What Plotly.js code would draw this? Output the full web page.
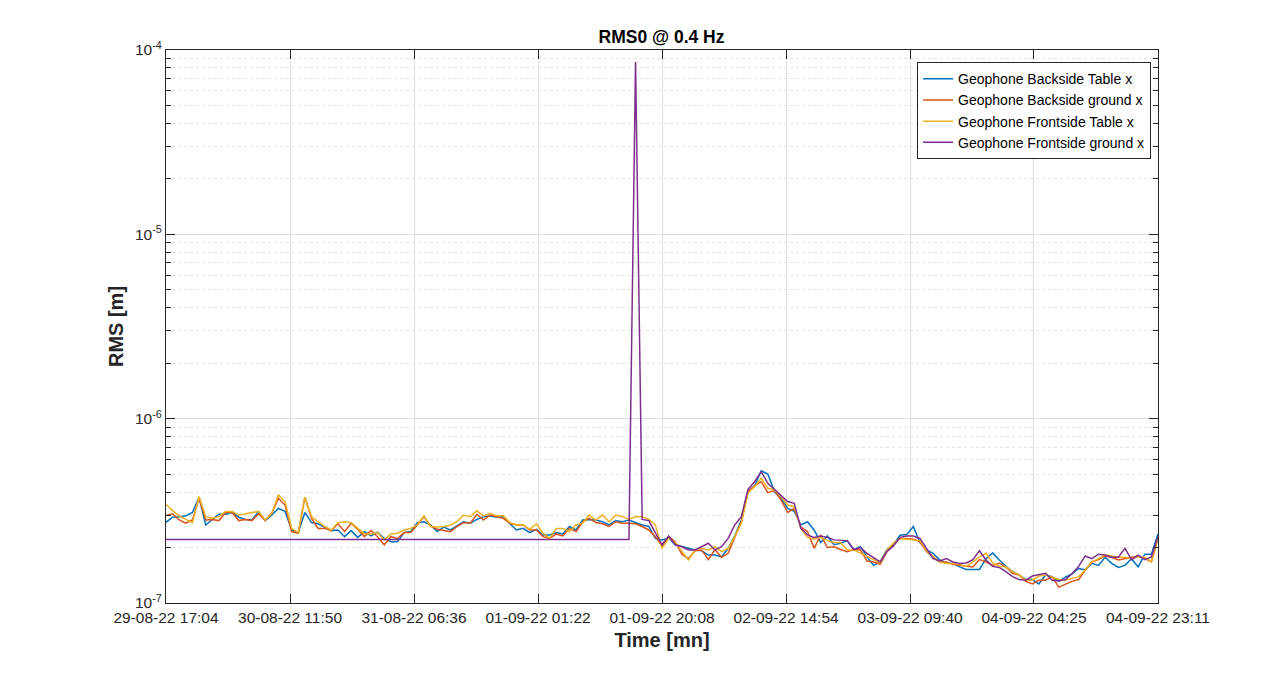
<!DOCTYPE html>
<html>
<head>
<meta charset="utf-8">
<script src="https://cdn.plot.ly/plotly-3.0.1.min.js"></script>
<style>
  html, body { margin: 0; padding: 0; background: #ffffff; }
  #chart { width: 1280px; height: 677px; }
</style>
</head>
<body>
<div id="chart"></div>
<script>
// ---------------- DATA ----------------
const seriesNames = [
  "Geophone Backside Table x",
  "Geophone Backside ground x",
  "Geophone Frontside Table x",
  "Geophone Frontside ground x"
];

const startTime = "2022-08-29 17:04";
const endTime = "2022-09-04 23:11";

const tickTimes = [
  "2022-08-29 17:04", "2022-08-30 11:50", "2022-08-31 06:36",
  "2022-09-01 01:22", "2022-09-01 20:08", "2022-09-02 14:54",
  "2022-09-03 09:40", "2022-09-04 04:25", "2022-09-04 23:11"
];
const tickLabels = [
  "29-08-22 17:04", "30-08-22 11:50", "31-08-22 06:36",
  "01-09-22 01:22", "01-09-22 20:08", "02-09-22 14:54",
  "03-09-22 09:40", "04-09-22 04:25", "04-09-22 23:11"
];

const yTickVals = [1e-7, 1e-6, 1e-5, 1e-4];
const yTickLabels = ["10<sup>-7</sup>", "10<sup>-6</sup>", "10<sup>-5</sup>", "10<sup>-4</sup>"];

const backsideTable = [
  2.74e-7, 2.92e-7, 2.94e-7, 2.97e-7, 3.10e-7, 3.75e-7, 2.65e-7, 2.82e-7, 3.03e-7, 3.03e-7,
  3.10e-7, 2.92e-7, 2.84e-7, 2.82e-7, 3.14e-7, 2.80e-7, 3.00e-7, 3.26e-7, 3.14e-7, 2.49e-7,
  2.41e-7, 3.10e-7, 2.73e-7, 2.69e-7, 2.58e-7, 2.47e-7, 2.49e-7, 2.29e-7, 2.47e-7, 2.27e-7,
  2.44e-7, 2.31e-7, 2.42e-7, 2.24e-7, 2.15e-7, 2.15e-7, 2.41e-7, 2.44e-7, 2.73e-7, 2.76e-7,
  2.65e-7, 2.44e-7, 2.58e-7, 2.49e-7, 2.62e-7, 2.76e-7, 2.71e-7, 2.84e-7, 2.94e-7, 2.97e-7,
  2.92e-7, 2.94e-7, 2.69e-7, 2.49e-7, 2.54e-7, 2.41e-7, 2.51e-7, 2.34e-7, 2.34e-7, 2.41e-7,
  2.37e-7, 2.60e-7, 2.49e-7, 2.82e-7, 2.84e-7, 2.82e-7, 2.76e-7, 2.65e-7, 2.80e-7, 2.76e-7,
  2.82e-7, 2.73e-7, 2.65e-7, 2.60e-7, 2.24e-7, 2.20e-7, 2.25e-7, 2.07e-7, 2.02e-7, 1.98e-7,
  1.94e-7, 1.92e-7, 1.82e-7, 1.82e-7, 1.78e-7, 1.98e-7, 2.31e-7, 2.82e-7, 4.02e-7, 4.32e-7,
  5.22e-7, 5.01e-7, 4.02e-7, 3.70e-7, 3.26e-7, 3.14e-7, 2.65e-7, 2.76e-7, 2.49e-7, 2.13e-7,
  2.31e-7, 2.07e-7, 2.11e-7, 2.18e-7, 1.95e-7, 2.02e-7, 1.78e-7, 1.60e-7, 1.67e-7, 1.95e-7,
  2.07e-7, 2.33e-7, 2.35e-7, 2.60e-7, 2.13e-7, 1.94e-7, 1.86e-7, 1.71e-7, 1.65e-7, 1.64e-7,
  1.57e-7, 1.52e-7, 1.52e-7, 1.52e-7, 1.74e-7, 1.87e-7, 1.71e-7, 1.58e-7, 1.48e-7, 1.42e-7,
  1.34e-7, 1.34e-7, 1.27e-7, 1.42e-7, 1.39e-7, 1.31e-7, 1.38e-7, 1.44e-7, 1.54e-7, 1.51e-7,
  1.64e-7, 1.60e-7, 1.77e-7, 1.64e-7, 1.56e-7, 1.60e-7, 1.74e-7, 1.57e-7, 1.84e-7, 1.84e-7,
  2.37e-7
];

const backsideGround = [
  2.98e-7, 3.05e-7, 2.82e-7, 2.71e-7, 2.82e-7, 3.70e-7, 2.82e-7, 2.84e-7, 2.80e-7, 3.10e-7,
  3.10e-7, 2.80e-7, 2.84e-7, 2.80e-7, 3.05e-7, 2.80e-7, 3.07e-7, 3.70e-7, 3.40e-7, 2.44e-7,
  2.39e-7, 3.75e-7, 2.88e-7, 2.54e-7, 2.54e-7, 2.47e-7, 2.69e-7, 2.44e-7, 2.71e-7, 2.51e-7,
  2.29e-7, 2.47e-7, 2.29e-7, 2.07e-7, 2.29e-7, 2.24e-7, 2.41e-7, 2.41e-7, 2.65e-7, 2.94e-7,
  2.62e-7, 2.51e-7, 2.47e-7, 2.44e-7, 2.60e-7, 2.73e-7, 2.71e-7, 3.03e-7, 2.82e-7, 3.00e-7,
  2.94e-7, 2.88e-7, 2.71e-7, 2.65e-7, 2.65e-7, 2.49e-7, 2.49e-7, 2.29e-7, 2.24e-7, 2.37e-7,
  2.31e-7, 2.54e-7, 2.44e-7, 2.76e-7, 2.88e-7, 2.73e-7, 2.69e-7, 2.60e-7, 2.76e-7, 2.71e-7,
  2.71e-7, 2.69e-7, 2.60e-7, 2.49e-7, 2.29e-7, 2.04e-7, 2.29e-7, 2.15e-7, 1.84e-7, 1.74e-7,
  1.92e-7, 1.94e-7, 1.72e-7, 1.95e-7, 1.77e-7, 1.86e-7, 2.27e-7, 2.76e-7, 4.02e-7, 4.32e-7,
  4.55e-7, 3.97e-7, 4.07e-7, 3.62e-7, 3.10e-7, 3.26e-7, 2.58e-7, 2.44e-7, 1.98e-7, 2.34e-7,
  2.00e-7, 2.02e-7, 1.95e-7, 1.90e-7, 1.95e-7, 1.94e-7, 1.69e-7, 1.67e-7, 1.62e-7, 1.90e-7,
  2.11e-7, 2.24e-7, 2.24e-7, 2.22e-7, 2.15e-7, 1.90e-7, 1.77e-7, 1.67e-7, 1.67e-7, 1.62e-7,
  1.60e-7, 1.58e-7, 1.57e-7, 1.72e-7, 1.67e-7, 1.60e-7, 1.64e-7, 1.57e-7, 1.45e-7, 1.42e-7,
  1.31e-7, 1.27e-7, 1.33e-7, 1.33e-7, 1.39e-7, 1.22e-7, 1.27e-7, 1.31e-7, 1.34e-7, 1.51e-7,
  1.67e-7, 1.72e-7, 1.80e-7, 1.77e-7, 1.71e-7, 1.74e-7, 1.77e-7, 1.80e-7, 1.74e-7, 1.67e-7,
  2.24e-7
];

const frontsideTable = [
  3.43e-7, 3.17e-7, 2.97e-7, 2.84e-7, 2.73e-7, 3.78e-7, 2.94e-7, 2.88e-7, 2.94e-7, 3.14e-7,
  3.14e-7, 3.00e-7, 3.05e-7, 3.11e-7, 3.14e-7, 2.82e-7, 3.07e-7, 3.86e-7, 3.55e-7, 2.54e-7,
  2.41e-7, 3.75e-7, 2.94e-7, 2.76e-7, 2.60e-7, 2.49e-7, 2.73e-7, 2.76e-7, 2.73e-7, 2.54e-7,
  2.37e-7, 2.37e-7, 2.41e-7, 2.20e-7, 2.37e-7, 2.39e-7, 2.49e-7, 2.54e-7, 2.65e-7, 2.97e-7,
  2.60e-7, 2.58e-7, 2.60e-7, 2.65e-7, 2.76e-7, 3.00e-7, 2.94e-7, 3.17e-7, 2.97e-7, 3.07e-7,
  2.97e-7, 2.97e-7, 2.73e-7, 2.65e-7, 2.65e-7, 2.51e-7, 2.69e-7, 2.39e-7, 2.24e-7, 2.54e-7,
  2.54e-7, 2.44e-7, 2.65e-7, 2.71e-7, 3.00e-7, 2.82e-7, 3.00e-7, 2.76e-7, 3.00e-7, 2.94e-7,
  2.84e-7, 2.94e-7, 2.94e-7, 2.84e-7, 2.65e-7, 1.98e-7, 2.24e-7, 2.13e-7, 1.90e-7, 1.71e-7,
  1.94e-7, 1.98e-7, 1.94e-7, 2.02e-7, 1.90e-7, 1.98e-7, 2.29e-7, 2.71e-7, 3.94e-7, 4.28e-7,
  4.75e-7, 4.19e-7, 4.10e-7, 3.78e-7, 3.40e-7, 3.33e-7, 2.54e-7, 2.27e-7, 2.22e-7, 2.27e-7,
  2.18e-7, 2.13e-7, 2.13e-7, 1.94e-7, 1.94e-7, 1.86e-7, 1.78e-7, 1.71e-7, 1.65e-7, 1.94e-7,
  2.11e-7, 2.24e-7, 2.22e-7, 2.20e-7, 2.18e-7, 1.92e-7, 1.80e-7, 1.67e-7, 1.64e-7, 1.64e-7,
  1.62e-7, 1.58e-7, 1.67e-7, 1.78e-7, 1.86e-7, 1.65e-7, 1.58e-7, 1.57e-7, 1.48e-7, 1.42e-7,
  1.33e-7, 1.33e-7, 1.40e-7, 1.42e-7, 1.38e-7, 1.34e-7, 1.33e-7, 1.36e-7, 1.39e-7, 1.51e-7,
  1.67e-7, 1.74e-7, 1.82e-7, 1.80e-7, 1.77e-7, 1.77e-7, 1.74e-7, 1.78e-7, 1.77e-7, 1.67e-7,
  2.27e-7
];

const frontsideGround = [
  2.21e-7, 2.21e-7, 2.21e-7, 2.21e-7, 2.21e-7, 2.21e-7, 2.21e-7, 2.21e-7, 2.21e-7, 2.21e-7,
  2.21e-7, 2.21e-7, 2.21e-7, 2.21e-7, 2.21e-7, 2.21e-7, 2.21e-7, 2.21e-7, 2.21e-7, 2.21e-7,
  2.21e-7, 2.21e-7, 2.21e-7, 2.21e-7, 2.21e-7, 2.21e-7, 2.21e-7, 2.21e-7, 2.21e-7, 2.21e-7,
  2.21e-7, 2.21e-7, 2.21e-7, 2.21e-7, 2.21e-7, 2.21e-7, 2.21e-7, 2.21e-7, 2.21e-7, 2.21e-7,
  2.21e-7, 2.21e-7, 2.21e-7, 2.21e-7, 2.21e-7, 2.21e-7, 2.21e-7, 2.21e-7, 2.21e-7, 2.21e-7,
  2.21e-7, 2.21e-7, 2.21e-7, 2.21e-7, 2.21e-7, 2.21e-7, 2.21e-7, 2.21e-7, 2.21e-7, 2.21e-7,
  2.21e-7, 2.21e-7, 2.21e-7, 2.21e-7, 2.21e-7, 2.21e-7, 2.21e-7, 2.21e-7, 2.21e-7, 2.21e-7,
  2.21e-7, 8.60e-5, 2.84e-7, 2.80e-7, 2.39e-7, 2.07e-7, 2.31e-7, 2.07e-7, 2.02e-7, 1.94e-7,
  1.94e-7, 2.02e-7, 2.11e-7, 1.94e-7, 2.02e-7, 2.24e-7, 2.65e-7, 2.94e-7, 4.13e-7, 4.55e-7,
  5.16e-7, 4.46e-7, 4.13e-7, 3.86e-7, 3.55e-7, 3.47e-7, 2.54e-7, 2.34e-7, 2.27e-7, 2.31e-7,
  2.27e-7, 2.20e-7, 2.18e-7, 2.18e-7, 1.95e-7, 2.00e-7, 1.86e-7, 1.77e-7, 1.67e-7, 1.90e-7,
  2.04e-7, 2.27e-7, 2.31e-7, 2.31e-7, 2.24e-7, 1.98e-7, 1.74e-7, 1.69e-7, 1.74e-7, 1.67e-7,
  1.64e-7, 1.65e-7, 1.72e-7, 1.92e-7, 1.71e-7, 1.58e-7, 1.56e-7, 1.48e-7, 1.39e-7, 1.34e-7,
  1.33e-7, 1.40e-7, 1.42e-7, 1.45e-7, 1.33e-7, 1.32e-7, 1.34e-7, 1.44e-7, 1.58e-7, 1.80e-7,
  1.74e-7, 1.84e-7, 1.82e-7, 1.77e-7, 1.77e-7, 1.98e-7, 1.72e-7, 1.82e-7, 1.72e-7, 1.78e-7,
  2.29e-7
];

const seriesValues = [backsideTable, backsideGround, frontsideTable, frontsideGround];
const seriesColors = ["#0072BD", "#D95319", "#EDB120", "#7E2F8E"];

// ---------------- TIME AXIS (evenly sampled between start and end) ----------------
function toMs(s) {
  const [d, t] = s.split(" ");
  const [Y, M, D] = d.split("-").map(Number);
  const [h, m] = t.split(":").map(Number);
  return Date.UTC(Y, M - 1, D, h, m);
}
const t0 = toMs(startTime), t1 = toMs(endTime);
const nPts = backsideTable.length;
const times = [];
for (let i = 0; i < nPts; i++) times.push(t0 + (t1 - t0) * i / (nPts - 1));

// ---------------- TRACES ----------------
const traces = seriesValues.map((vals, k) => ({
  type: "scatter",
  mode: "lines",
  name: seriesNames[k],
  x: times,
  y: vals,
  line: { color: seriesColors[k], width: 1.5 }
}));

const minorVals = [];
[1e-7, 1e-6, 1e-5].forEach(dec => { for (let m = 2; m <= 9; m++) minorVals.push(m * dec); });

const axisColor = "#262626";
const layout = {
  width: 1280, height: 677,
  paper_bgcolor: "#ffffff", plot_bgcolor: "#ffffff",
  margin: { l: 166, r: 122, t: 50, b: 74 },
  font: { family: "Liberation Sans, Arial, Helvetica, sans-serif", color: axisColor, size: 14 },
  title: {
    text: "<b>RMS0 @ 0.4 Hz</b>",
    font: { size: 17.5, color: "#000000" },
    x: 0.5168, xanchor: "center", y: 0.946, yanchor: "middle"
  },
  showlegend: true,
  legend: {
    x: 0.993, xanchor: "right", y: 0.978, yanchor: "top",
    bgcolor: "#ffffff", bordercolor: axisColor, borderwidth: 1,
    font: { size: 14, color: "#000000" },
    tracegroupgap: 0, itemwidth: 30
  },
  xaxis: {
    type: "date",
    range: [startTime, endTime],
    tickmode: "array", tickvals: tickTimes, ticktext: tickLabels,
    ticks: "inside", ticklen: 9, tickwidth: 1, tickcolor: axisColor,
    showline: true, linecolor: axisColor, linewidth: 1, mirror: "ticks",
    showgrid: true, gridcolor: "#dfdfdf", gridwidth: 1,
    zeroline: false,
    tickfont: { size: 15.5, color: axisColor },
    title: { text: "<b>Time [mn]</b>", font: { size: 20, color: axisColor }, standoff: 8 }
  },
  yaxis: {
    type: "log",
    range: [-7, -4],
    tickmode: "array", tickvals: yTickVals, ticktext: yTickLabels,
    ticks: "inside", ticklen: 9, tickwidth: 1, tickcolor: axisColor,
    showline: true, linecolor: axisColor, linewidth: 1, mirror: "ticks",
    showgrid: true, gridcolor: "#dfdfdf", gridwidth: 1,
    zeroline: false,
    tickfont: { size: 15.5, color: axisColor },
    minor: {
      tickmode: "array", tickvals: minorVals,
      ticks: "inside", ticklen: 5, tickcolor: axisColor,
      showgrid: true, gridcolor: "#e3e3e3", griddash: "3px,3px", gridwidth: 1
    },
    title: { text: "<b>RMS [m]</b>", font: { size: 20, color: axisColor }, standoff: 5 }
  }
};

Plotly.newPlot("chart", traces, layout, { displayModeBar: false, responsive: false });
</script>
</body>
</html>
